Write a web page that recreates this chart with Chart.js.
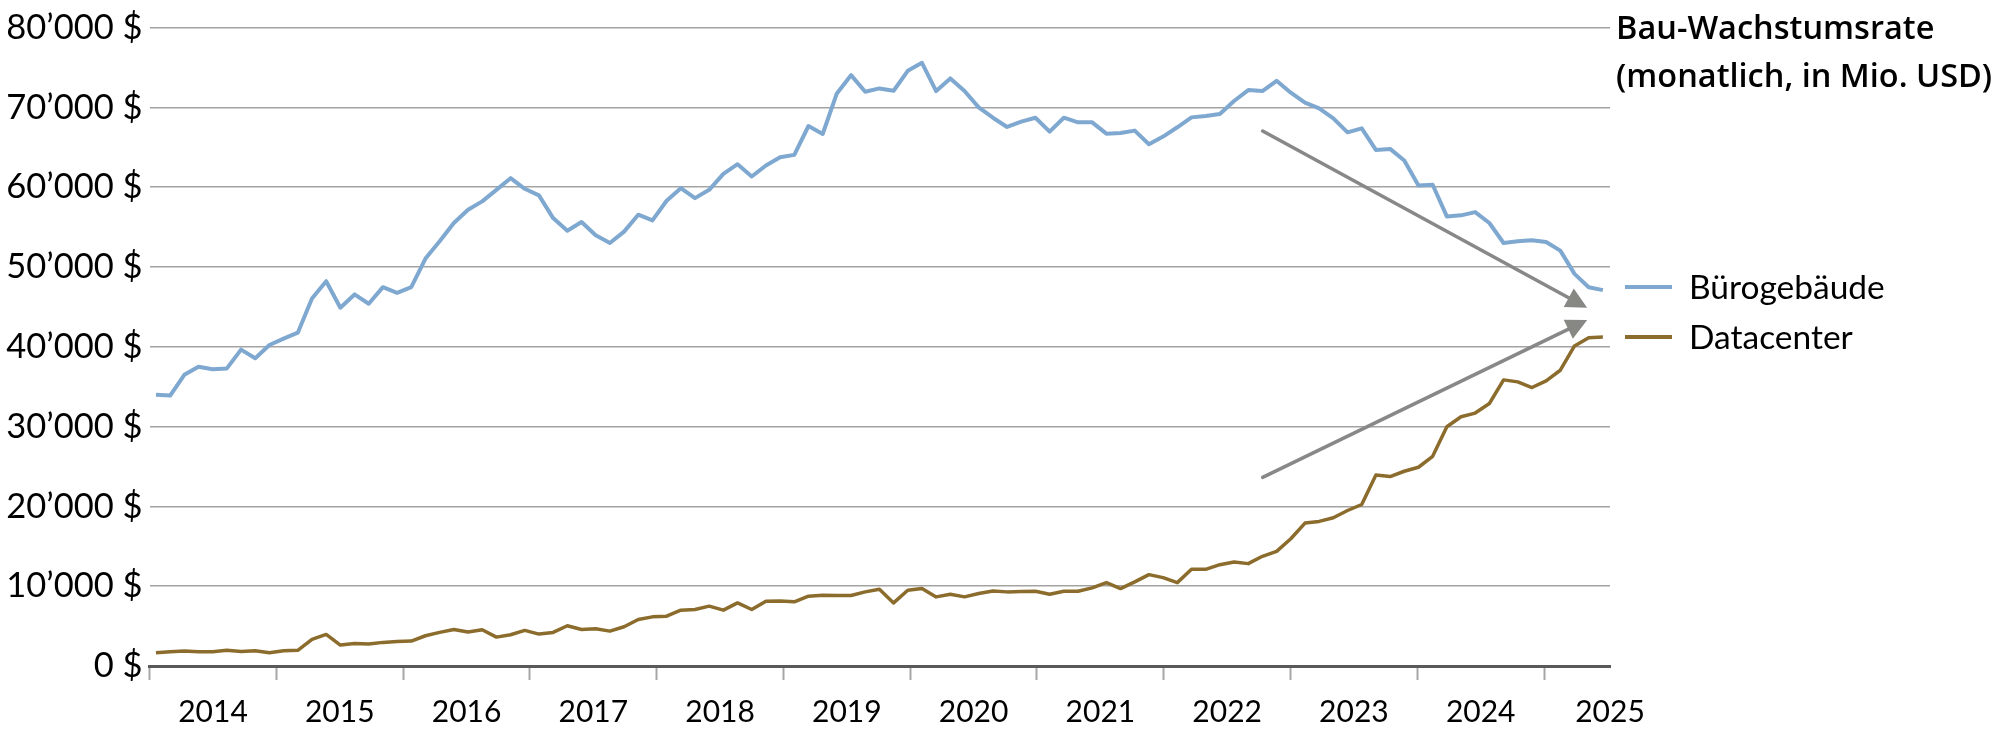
<!DOCTYPE html>
<html lang="de">
<head>
<meta charset="utf-8">
<script src="https://cdn.jsdelivr.net/npm/chart.js@4.4.1/dist/chart.umd.min.js"></script>
<style>
  html, body { margin: 0; padding: 0; background: #fff; }
  #wrap { position: relative; width: 2000px; height: 753px; }
  #title { position: absolute; left: 1616px; top: 3px; font: 600 32.5px "Open Sans", sans-serif; line-height: 47.6px; color: #000; white-space: nowrap; }
  .legLine { position: absolute; left: 1625px; width: 47px; height: 4px; }
  .legText { position: absolute; left: 1689px; font: 400 33.5px Lato, sans-serif; line-height: 40px; color: #000; white-space: nowrap; }
</style>
</head>
<body>
<div id="wrap">
  <canvas id="chart" width="2000" height="753"></canvas>
  <div id="title">Bau-Wachstumsrate<br>(monatlich, in Mio. USD)</div>
  <div id="legend"></div>
</div>
<script>
// Bau-Wachstumsrate: Bürogebäude vs. Datacenter
const years = ['2014','2015','2016','2017','2018','2019','2020','2021','2022','2023','2024','2025'];

// x position of the first point (in years) and spacing between points
const firstX = 2014.05;
const stepX = 0.1119;
const xMax = 2025.52;

const buero = [
  34000, 33900, 36500, 37500, 37200, 37300, 39650, 38570, 40230, 41030,
  41780, 46070, 48230, 44900, 46570, 45400, 47480, 46770, 47480, 51060,
  53230, 55520, 57190, 58230, 59680, 61140, 59810, 58980, 56140, 54560,
  55640, 53980, 53020, 54440, 56560, 55850, 58310, 59890, 58640, 59680,
  61680, 62890, 61350, 62730, 63770, 64060, 67680, 66680, 71760, 74050,
  71970, 72390, 72100, 74600, 75600, 72060, 73640, 72060, 70010, 68720,
  67560, 68220, 68720, 66970, 68720, 68140, 68140, 66720, 66800, 67100,
  65390, 66350, 67520, 68760, 68930, 69180, 70810, 72180, 72060, 73350,
  71850, 70600, 69890, 68640, 66890, 67390, 64680, 64810, 63350, 60230,
  60310, 56350, 56480, 56890, 55520, 53020, 53230, 53350, 53150, 52060,
  49150, 47480, 47110
];

const datacenter = [
  1670, 1790, 1870, 1790, 1790, 1960, 1830, 1920, 1670, 1920,
  1960, 3330, 3960, 2620, 2830, 2750, 2960, 3080, 3120, 3790,
  4210, 4580, 4250, 4540, 3620, 3920, 4460, 4000, 4210, 5040,
  4580, 4670, 4370, 4920, 5830, 6160, 6250, 7000, 7080, 7500,
  7000, 7910, 7080, 8120, 8160, 8040, 8750, 8870, 8830, 8830,
  9290, 9620, 7910, 9500, 9700, 8660, 9000, 8660, 9080, 9410,
  9290, 9330, 9370, 9000, 9370, 9370, 9790, 10450, 9700, 10540,
  11450, 11080, 10450, 12120, 12120, 12700, 13040, 12830, 13750, 14370,
  15950, 17910, 18120, 18580, 19490, 20240, 23950, 23740, 24410, 24910,
  26280, 29990, 31240, 31700, 32900, 35860, 35610, 34900, 35740, 37070,
  40110, 41150, 41230
];

// trend arrows: [x (year), value] start and tip
const arrowStart = [[2022.78, 67050], [2022.78, 23650]];
const arrowEnd = [[2025.34, 44890], [2025.34, 43350]];

const toPoints = arr => arr.map((v, i) => ({ x: firstX + i * stepX, y: v }));

function fmtDollar(v) {
  return String(v).replace(/\B(?=(\d{3})+(?!\d))/g, '\u2019') + ' $';
}

const xTicks = [];
years.forEach((y, k) => {
  xTicks.push(2014 + k);
  if (k < years.length - 1) xTicks.push(2014 + k + 0.5);
});
xTicks.push(xMax);

const arrowPlugin = {
  id: 'arrows',
  afterDatasetsDraw(chart) {
    const { ctx, scales: { x, y } } = chart;
    ctx.save();
    arrowStart.forEach((s, i) => {
      const e = arrowEnd[i];
      const x0 = x.getPixelForValue(s[0]), y0 = y.getPixelForValue(s[1]);
      const x1 = x.getPixelForValue(e[0]), y1 = y.getPixelForValue(e[1]);
      const ang = Math.atan2(y1 - y0, x1 - x0);
      const L = 21, W = 10.5;
      const bx = x1 - L * Math.cos(ang), by = y1 - L * Math.sin(ang);
      ctx.strokeStyle = '#888888';
      ctx.lineWidth = 3.6;
      ctx.lineCap = 'round';
      ctx.beginPath();
      ctx.moveTo(x0, y0);
      ctx.lineTo(bx + 2 * Math.cos(ang), by + 2 * Math.sin(ang));
      ctx.stroke();
      ctx.fillStyle = '#878783';
      ctx.beginPath();
      ctx.moveTo(x1, y1);
      ctx.lineTo(bx - W * Math.sin(ang), by + W * Math.cos(ang));
      ctx.lineTo(bx + W * Math.sin(ang), by - W * Math.cos(ang));
      ctx.closePath();
      ctx.fill();
    });
    ctx.restore();
  }
};

const chart = new Chart(document.getElementById('chart'), {
  type: 'line',
  data: {
    datasets: [
      {
        label: 'Bürogebäude',
        data: toPoints(buero),
        borderColor: '#7fa8d0',
        borderWidth: 4,
        pointRadius: 0,
        tension: 0,
        borderJoinStyle: 'round'
      },
      {
        label: 'Datacenter',
        data: toPoints(datacenter),
        borderColor: '#8b6c2c',
        borderWidth: 3.5,
        pointRadius: 0,
        tension: 0,
        borderJoinStyle: 'round'
      }
    ]
  },
  options: {
    responsive: false,
    devicePixelRatio: 1,
    animation: false,
    layout: { padding: { left: 0, right: 390, top: 25.7, bottom: 0 } },
    plugins: { legend: { display: false }, tooltip: { enabled: false } },
    scales: {
      x: {
        type: 'linear',
        min: 2014,
        max: xMax,
        afterBuildTicks: axis => { axis.ticks = xTicks.map(v => ({ value: v })); },
        afterFit: s => { s.height = 87; },
        ticks: {
          autoSkip: false,
          maxRotation: 0,
          padding: 14,
          color: '#000',
          font: { family: 'Lato', size: 30 },
          callback: v => {
            if (v === xMax) return years[years.length - 1];
            if (Number.isInteger(v)) return '';
            return years[Math.floor(v) - 2014];
          }
        },
        grid: {
          drawOnChartArea: false,
          drawTicks: true,
          tickLength: 14,
          tickWidth: 2,
          tickColor: c => Number.isInteger(c.tick.value) ? '#a6a6a6' : 'rgba(0,0,0,0)'
        },
        border: { display: true, color: '#595959', width: 3 }
      },
      y: {
        min: 0,
        max: 80000,
        afterFit: s => { s.width = 149.6; },
        ticks: {
          stepSize: 10000,
          padding: 7,
          color: '#000',
          font: { family: 'Lato', size: 34.5 },
          callback: v => fmtDollar(v)
        },
        grid: {
          drawTicks: false,
          lineWidth: 1.6,
          color: c => c.tick.value === 0 ? 'rgba(0,0,0,0)' : '#a3a3a3'
        },
        border: { display: false }
      }
    }
  },
  plugins: [arrowPlugin]
});

// legend built from the datasets
const legend = document.getElementById('legend');
const legendY = [287, 337];
chart.data.datasets.forEach((ds, i) => {
  const line = document.createElement('div');
  line.className = 'legLine';
  line.style.top = (legendY[i] - 2) + 'px';
  line.style.background = ds.borderColor;
  legend.appendChild(line);
  const txt = document.createElement('div');
  txt.className = 'legText';
  txt.style.top = (legendY[i] - 21) + 'px';
  txt.textContent = ds.label;
  legend.appendChild(txt);
});
</script>
</body>
</html>
